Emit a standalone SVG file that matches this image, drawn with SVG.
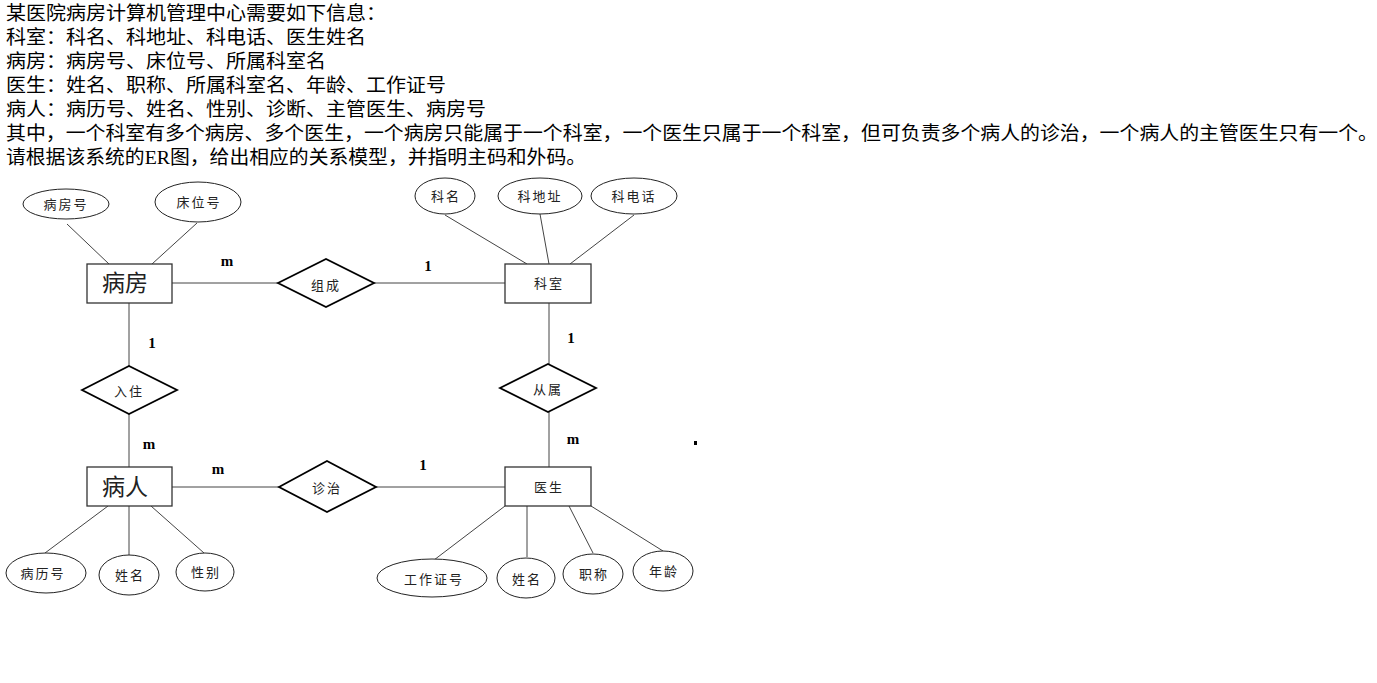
<svg xmlns="http://www.w3.org/2000/svg" width="1377" height="683" viewBox="0 0 1377 683">
<style>
.t{font-family:"Liberation Serif","Noto Sans CJK SC",serif;font-size:19px;fill:#000}
.ent{fill:#fff;stroke:#333;stroke-width:1.3}
.rel{fill:#fff;stroke:#000;stroke-width:1.8}
.att{fill:#fff;stroke:#222;stroke-width:1}
.ln{stroke:#444;stroke-width:1;fill:none}
.lb{font-family:"Noto Sans CJK SC",sans-serif;font-size:13px;fill:#222;text-anchor:middle;letter-spacing:2px}
.big{font-family:"Noto Sans CJK SC",sans-serif;font-size:23px;fill:#222;text-anchor:middle}
.card{font-family:"Liberation Serif",serif;font-size:15px;font-weight:bold;fill:#000;text-anchor:middle}
</style>
<rect width="1377" height="683" fill="#fff"/>
<g id="intro">
<text class="t" x="6" y="20" textLength="380" lengthAdjust="spacingAndGlyphs">某医院病房计算机管理中心需要如下信息：</text>
<text class="t" x="6" y="44" textLength="360" lengthAdjust="spacingAndGlyphs">科室：科名、科地址、科电话、医生姓名</text>
<text class="t" x="6" y="68" textLength="320" lengthAdjust="spacingAndGlyphs">病房：病房号、床位号、所属科室名</text>
<text class="t" x="6" y="92" textLength="440" lengthAdjust="spacingAndGlyphs">医生：姓名、职称、所属科室名、年龄、工作证号</text>
<text class="t" x="6" y="116" textLength="480" lengthAdjust="spacingAndGlyphs">病人：病历号、姓名、性别、诊断、主管医生、病房号</text>
<text class="t" x="6" y="140" textLength="1372" lengthAdjust="spacingAndGlyphs">其中，一个科室有多个病房、多个医生，一个病房只能属于一个科室，一个医生只属于一个科室，但可负责多个病人的诊治，一个病人的主管医生只有一个。</text>
<text class="t" x="6" y="164" textLength="580" lengthAdjust="spacingAndGlyphs">请根据该系统的ER图，给出相应的关系模型，并指明主码和外码。</text>
</g>
<g id="connectors">
<line class="ln" x1="67" y1="224" x2="109" y2="264"/>
<line class="ln" x1="197" y1="223" x2="152" y2="264"/>
<line class="ln" x1="445" y1="215" x2="527" y2="264"/>
<line class="ln" x1="540" y1="214" x2="549" y2="264"/>
<line class="ln" x1="634" y1="215" x2="570" y2="264"/>
<line class="ln" x1="172" y1="283" x2="278" y2="283"/>
<line class="ln" x1="374" y1="283" x2="505" y2="283"/>
<line class="ln" x1="129" y1="303" x2="129" y2="366"/>
<line class="ln" x1="129" y1="414" x2="129" y2="467"/>
<line class="ln" x1="549" y1="303" x2="549" y2="364"/>
<line class="ln" x1="549" y1="412" x2="549" y2="467"/>
<line class="ln" x1="172" y1="487" x2="279" y2="487"/>
<line class="ln" x1="376" y1="487" x2="505" y2="487"/>
<line class="ln" x1="108" y1="506" x2="45" y2="553"/>
<line class="ln" x1="129" y1="506" x2="129" y2="555"/>
<line class="ln" x1="151" y1="506" x2="204" y2="553"/>
<line class="ln" x1="505" y1="506" x2="434" y2="560"/>
<line class="ln" x1="527" y1="506" x2="527" y2="557"/>
<line class="ln" x1="569" y1="506" x2="593" y2="553"/>
<line class="ln" x1="591" y1="506" x2="663" y2="551"/>
<text class="card" x="227" y="266">m</text>
<text class="card" x="428" y="271">1</text>
<text class="card" x="152" y="348">1</text>
<text class="card" x="149" y="449">m</text>
<text class="card" x="571" y="343">1</text>
<text class="card" x="573" y="444">m</text>
<text class="card" x="218" y="474">m</text>
<text class="card" x="423" y="470">1</text>
</g>
<g id="n-bingfang">
<rect class="ent" x="87" y="264" width="85" height="39"/>
<text class="big" x="125" y="291">病房</text>
</g>
<g id="n-keshi">
<rect class="ent" x="505" y="264" width="86" height="39"/>
<text class="lb" x="549" y="288">科室</text>
</g>
<g id="n-bingren">
<rect class="ent" x="87" y="467" width="85" height="39"/>
<text class="big" x="125" y="495">病人</text>
</g>
<g id="n-yisheng">
<rect class="ent" x="505" y="467" width="86" height="39"/>
<text class="lb" x="549" y="492">医生</text>
</g>
<g id="r-zucheng">
<polygon class="rel" points="278,283 326,259 374,283 326,307"/>
<text class="lb" x="326" y="290">组成</text>
</g>
<g id="r-congshu">
<polygon class="rel" points="500,388 548,364 596,388 548,412"/>
<text class="lb" x="548" y="394">从属</text>
</g>
<g id="r-ruzhu">
<polygon class="rel" points="82,390 129,366 177,390 129,414"/>
<text class="lb" x="129" y="396">入住</text>
</g>
<g id="r-zhenzhi">
<polygon class="rel" points="279,487 327,461 376,487 327,512"/>
<text class="lb" x="327" y="493">诊治</text>
</g>
<g id="a-bingfanghao">
<ellipse class="att" cx="66" cy="204" rx="43" ry="15"/>
<text class="lb" x="66" y="209">病房号</text>
</g>
<g id="a-chuangweihao">
<ellipse class="att" cx="198" cy="202" rx="43" ry="20"/>
<text class="lb" x="199" y="207">床位号</text>
</g>
<g id="a-keming">
<ellipse class="att" cx="445" cy="196" rx="30" ry="18"/>
<text class="lb" x="446" y="201">科名</text>
</g>
<g id="a-kedizhi">
<ellipse class="att" cx="540" cy="196" rx="42" ry="18"/>
<text class="lb" x="540" y="201">科地址</text>
</g>
<g id="a-kedianhua">
<ellipse class="att" cx="634" cy="196" rx="43" ry="18"/>
<text class="lb" x="634" y="201">科电话</text>
</g>
<g id="a-binglihao">
<ellipse class="att" cx="46" cy="573" rx="40" ry="20"/>
<text class="lb" x="43" y="578">病历号</text>
</g>
<g id="a-xingming1">
<ellipse class="att" cx="129" cy="575" rx="30" ry="20"/>
<text class="lb" x="130" y="580">姓名</text>
</g>
<g id="a-xingbie">
<ellipse class="att" cx="205" cy="572" rx="29" ry="19"/>
<text class="lb" x="206" y="577">性别</text>
</g>
<g id="a-gongzuozhenghao">
<ellipse class="att" cx="432" cy="578" rx="55" ry="19"/>
<text class="lb" x="434" y="584">工作证号</text>
</g>
<g id="a-xingming2">
<ellipse class="att" cx="526" cy="578" rx="29" ry="20"/>
<text class="lb" x="527" y="584">姓名</text>
</g>
<g id="a-zhicheng">
<ellipse class="att" cx="593" cy="574" rx="30" ry="20"/>
<text class="lb" x="594" y="579">职称</text>
</g>
<g id="a-nianling">
<ellipse class="att" cx="663" cy="571" rx="30" ry="20"/>
<text class="lb" x="664" y="576">年龄</text>
</g>
<rect x="694" y="441" width="3" height="4" fill="#000"/>
</svg>
